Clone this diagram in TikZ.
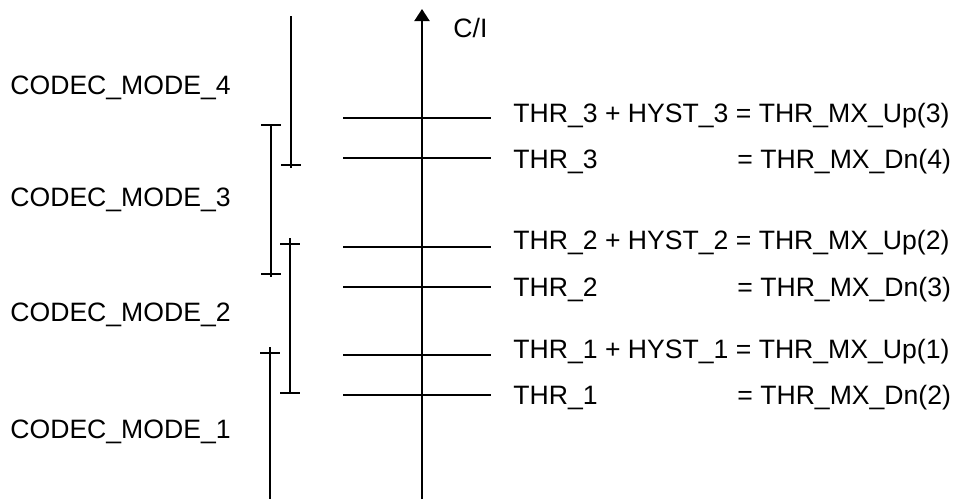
\documentclass[tikz,border=0pt]{standalone}
\usepackage{fontspec}
\setmainfont{Liberation Sans}
\usetikzlibrary{arrows.meta}
\begin{document}
\begin{tikzpicture}[
            x=0.5pt, y=-0.5pt,
            lbl/.style={anchor=west, inner sep=0, font=\fontsize{13.3}{16}\selectfont},
            thr/.style={line width=0.9pt},
            bar/.style={line width=1pt},
        ]
        \useasboundingbox (0,0) rectangle (954,499);
        \coordinate (base) at (422,499);
        \coordinate (tip) at (422,9);
        \draw[bar, -{Triangle[width=7.5pt, length=6pt]}] (base) -- (tip);
        \node[lbl] (ci) at (453,28) {C/I};
        \node[lbl] (m4) at (10,88) {CODEC\_MODE\_4};
        \node[lbl] (m3) at (10,200) {CODEC\_MODE\_3};
        \node[lbl] (m2) at (10,315) {CODEC\_MODE\_2};
        \node[lbl] (m1) at (10,432) {CODEC\_MODE\_1};
        \coordinate (t3u) at (343,118);
        \coordinate (t3d) at (343,158);
        \coordinate (t2u) at (343,247);
        \coordinate (t2d) at (343,287);
        \coordinate (t1u) at (343,355);
        \coordinate (t1d) at (343,395);
        \node[lbl] (up3) at (513,116) {THR\_3 + HYST\_3 = THR\_MX\_Up(3)};
        \node[lbl] (dn4) at (513,162) {THR\_3};
        \node[lbl] (dn4r) at (737,162) {= THR\_MX\_Dn(4)};
        \node[lbl] (up2) at (513,243) {THR\_2 + HYST\_2 = THR\_MX\_Up(2)};
        \node[lbl] (dn3) at (513,290) {THR\_2};
        \node[lbl] (dn3r) at (737,290) {= THR\_MX\_Dn(3)};
        \node[lbl] (up1) at (513,352) {THR\_1 + HYST\_1 = THR\_MX\_Up(1)};
        \node[lbl] (dn2) at (513,398) {THR\_1};
        \node[lbl] (dn2r) at (737,398) {= THR\_MX\_Dn(2)};
        \draw[thr] (t3u) -- ++(148,0) (t3d) -- ++(148,0);
        \draw[thr] (t2u) -- ++(148,0) (t2d) -- ++(148,0);
        \draw[thr] (t1u) -- ++(148,0) (t1d) -- ++(148,0);
        \draw[bar] (291,16) -- (291,168) (281,165) -- (301,165);
        \draw[bar] (271,125) -- (271,277) (261,125) -- (281,125) (261,274) -- (281,274);
        \draw[bar] (290,238) -- (290,393) (280,244) -- (300,244) (280,393) -- (300,393);
        \draw[bar] (270,347) -- (270,499) (260,353) -- (280,353);
    \end{tikzpicture}
\end{document}
